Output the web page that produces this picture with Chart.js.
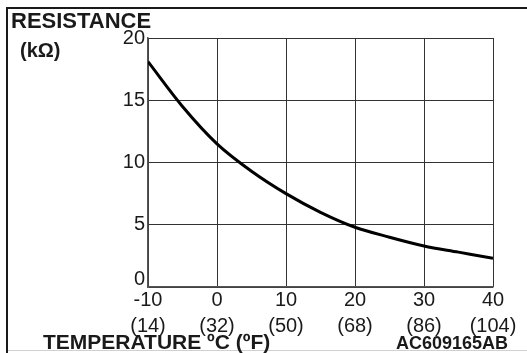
<!DOCTYPE html>
<html>
<head>
<meta charset="utf-8">
<script src="https://cdn.jsdelivr.net/npm/chart.js@4.4.1/dist/chart.umd.min.js"></script>
<style>
  body { margin: 0; background: #fff; }
  #wrap { width: 527px; height: 353px; }
</style>
</head>
<body>
<div id="wrap"><canvas id="chart" width="527" height="353"></canvas></div>
<script>
// Courbe résistance / température
const tempC = [-10, -5, 0, 5, 10, 15, 20, 25, 30, 35, 40];
const resistance = [18.1, 14.5, 11.5, 9.3, 7.5, 6.0, 4.8, 4.0, 3.3, 2.8, 2.3];
const tickC = [-10, 0, 10, 20, 30, 40];
const tickF = ['(14)', '(32)', '(50)', '(68)', '(86)', '(104)'];
const tickR = [0, 5, 10, 15, 20];

const FONT = '"Liberation Sans", Arial, Helvetica, sans-serif';

// Cadre et textes fixes autour du graphique
const decorPlugin = {
    id: 'decor',
    beforeDraw (chart) {
        const ctx = chart.ctx;
        ctx.save();
        ctx.fillStyle = '#fff';
        ctx.fillRect(0, 0, chart.width, chart.height);
        ctx.restore();
    },
    afterDraw (chart) {
        const ctx = chart.ctx;
        ctx.save();
        ctx.strokeStyle = '#1a1a1a';
        ctx.lineWidth = 2;
        ctx.beginPath();
        ctx.moveTo(7, 353);
        ctx.lineTo(7, 8);
        ctx.lineTo(527, 8);
        ctx.stroke();
        ctx.strokeStyle = '#d0d0d0';
        ctx.lineWidth = 1;
        ctx.beginPath();
        ctx.moveTo(8, 350.5);
        ctx.lineTo(527, 350.5);
        ctx.stroke();

        ctx.fillStyle = '#1a1a1a';
        ctx.textBaseline = 'alphabetic';
        ctx.font = 'bold 22px ' + FONT;
        ctx.fillText('RESISTANCE', 11, 28);
        ctx.font = 'bold 20px ' + FONT;
        ctx.fillText('(kΩ)', 20, 57);
        ctx.font = 'bold 21px ' + FONT;
        ctx.fillText('TEMPERATURE ºC (ºF)', 43, 349);
        ctx.font = 'bold 18px ' + FONT;
        ctx.textAlign = 'right';
        ctx.fillText('AC609165AB', 508, 349);
        ctx.restore();
    }
};

new Chart(document.getElementById('chart'), {
    type: 'line',
    data: {
        datasets: [{
            data: tempC.map((t, i) => ({ x: t, y: resistance[i] })),
            borderColor: '#000',
            borderWidth: 3,
            pointRadius: 0,
            cubicInterpolationMode: 'monotone',
            fill: false
        }]
    },
    options: {
        responsive: false,
        animation: false,
        layout: { padding: { top: 38, right: 34, left: 0, bottom: 0 } },
        plugins: {
            legend: { display: false },
            tooltip: { enabled: false }
        },
        scales: {
            x: {
                type: 'linear',
                min: tickC[0],
                max: tickC[tickC.length - 1],
                afterBuildTicks: (axis) => { axis.ticks = tickC.map(v => ({ value: v })); },
                afterFit: (axis) => { axis.height = 66; },
                grid: { color: '#333', lineWidth: 1, drawTicks: false },
                border: { color: '#555', width: 1.5 },
                ticks: {
                    padding: 0,
                    maxRotation: 0,
                    color: '#1a1a1a',
                    font: { family: FONT, size: 20, lineHeight: 1.3 },
                    callback: (v) => {
                        const i = tickC.indexOf(v);
                        return [String(v), tickF[i]];
                    }
                }
            },
            y: {
                min: tickR[0],
                max: tickR[tickR.length - 1],
                afterBuildTicks: (axis) => { axis.ticks = tickR.map(v => ({ value: v })); },
                afterFit: (axis) => { axis.width = 148; },
                grid: { color: '#333', lineWidth: 1, drawTicks: false },
                border: { color: '#555', width: 1.5 },
                ticks: {
                    padding: 3,
                    color: '#1a1a1a',
                    font: { family: FONT, size: 20, lineHeight: 0.8 },
                    // le "0" est placé au-dessus de l'axe
                    callback: (v) => (v === 0 ? ['0', ''] : String(v))
                }
            }
        }
    },
    plugins: [decorPlugin]
});
</script>
</body>
</html>
